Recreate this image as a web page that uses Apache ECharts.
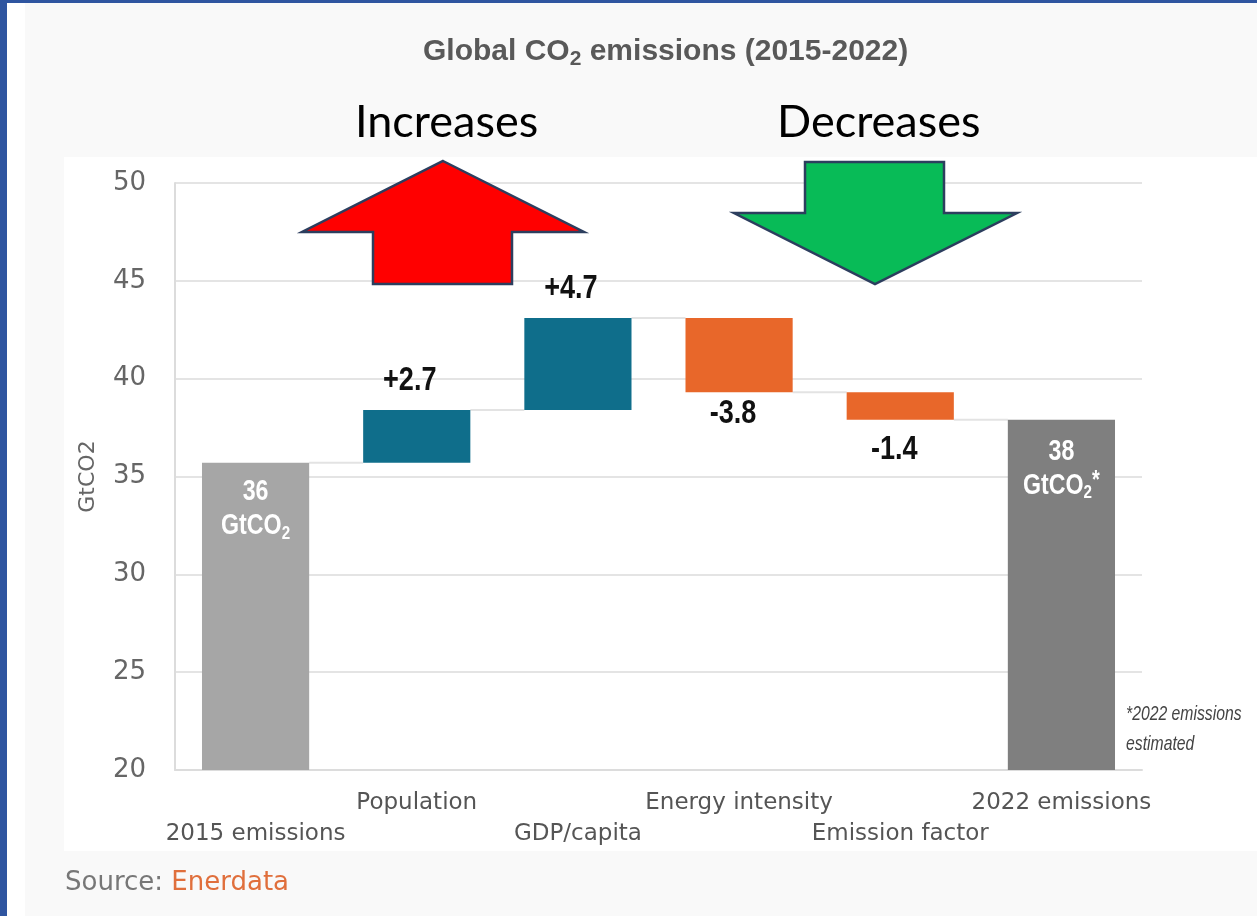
<!DOCTYPE html>
<html>
<head>
<meta charset="utf-8">
<title>Global CO2 emissions (2015-2022)</title>
<script src="https://cdn.jsdelivr.net/npm/echarts@6/dist/echarts.min.js"></script>
<style>
  html, body { margin: 0; padding: 0; background: #f9f9f9; }
  #chart { width: 1257px; height: 916px; }
</style>
</head>
<body>
<div id="chart"></div>
<script>
// Decomposition of the change in global CO2 emissions between 2015 and 2022
const categories = ['2015 emissions', 'Population', 'GDP/capita', 'Energy intensity', 'Emission factor', '2022 emissions'];
const startTotal = 35.7;                 // GtCO2 in 2015
const changes = [2.7, 4.7, -3.8, -1.4];  // contribution of each driver
const endTotal = 37.9;                   // GtCO2 in 2022 (estimate)
const yMin = 20, yMax = 50, yStep = 5;

const COLORS = { total: '#a6a6a6', final: '#7f7f7f', up: '#0f6e8b', down: '#e8672a' };
const SANS = "'DejaVu Sans', Verdana, sans-serif";
const BOLD = "'Liberation Sans', Arial, sans-serif";
const NARROW_X = 0.8; // horizontal squeeze giving the value labels a condensed look

// Build waterfall segments from the running total
const segs = [{ lo: yMin, hi: startTotal, kind: 'total', end: startTotal, value: startTotal }];
let level = startTotal;
changes.forEach(d => {
  const next = +(level + d).toFixed(1);
  segs.push({ lo: Math.min(level, next), hi: Math.max(level, next), kind: d > 0 ? 'up' : 'down', end: next, value: d });
  level = next;
});
segs.push({ lo: yMin, hi: endTotal, kind: 'final', end: endTotal, value: endTotal });

const whiteRich = {
  b: { fontFamily: BOLD, fontWeight: 'bold', fontSize: 29, fill: '#ffffff', lineHeight: 34 },
  s: { fontFamily: BOLD, fontWeight: 'bold', fontSize: 19, fill: '#ffffff', verticalAlign: 'bottom', padding: [12, 0, 0, 0], lineHeight: 34 },
  st: { fontFamily: BOLD, fontWeight: 'bold', fontSize: 25, fill: '#ffffff', verticalAlign: 'top', padding: [0, 0, 8, 0], lineHeight: 34 }
};

function labelFor(s) {
  if (s.kind === 'total') return `{b|${Math.round(s.value)}}\n{b|GtCO}{s|2}`;
  if (s.kind === 'final') return `{b|${Math.round(s.value)}}\n{b|GtCO}{s|2}{st|*}`;
  return (s.value > 0 ? '+' : '') + s.value.toFixed(1);
}

function renderItem(params, api) {
  const i = params.dataIndex;
  const s = segs[i];
  const top = api.coord([i, s.hi]);
  const bot = api.coord([i, s.lo]);
  const band = api.size([1, 0])[0];
  const w = band * 0.665;
  const children = [];
  if (i < segs.length - 1) {
    const a = api.coord([i, s.end]);
    const b = api.coord([i + 1, s.end]);
    children.push({
      type: 'line',
      shape: { x1: a[0] + w / 2, y1: a[1], x2: b[0] - w / 2, y2: b[1] },
      style: { stroke: '#e3e3e3', lineWidth: 2 }
    });
  }
  children.push({
    type: 'rect',
    shape: { x: top[0] - w / 2, y: top[1], width: w, height: bot[1] - top[1] },
    style: { fill: COLORS[s.kind] }
  });
  if (s.kind === 'total' || s.kind === 'final') {
    children.push({
      type: 'text', x: top[0], y: top[1] + (s.kind === 'total' ? 12 : 15), scaleX: NARROW_X,
      style: { text: labelFor(s), rich: whiteRich, align: 'center', verticalAlign: 'top' }
    });
  } else if (s.kind === 'up') {
    children.push({
      type: 'text', x: top[0] - 7, y: top[1] - 13, scaleX: 0.82,
      style: { text: labelFor(s), font: 'bold 33px ' + BOLD, fill: '#111', align: 'center', verticalAlign: 'bottom' }
    });
  } else {
    children.push({
      type: 'text', x: bot[0] - 6, y: bot[1] + (i === 3 ? 5 : 14), scaleX: 0.82,
      style: { text: labelFor(s), font: 'bold 33px ' + BOLD, fill: '#111', align: 'center', verticalAlign: 'top' }
    });
  }
  return { type: 'group', children: children };
}

function arrow(points, fill) {
  return {
    type: 'polygon', z: 50,
    shape: { points: points },
    style: { fill: fill, stroke: '#2c3e5e', lineWidth: 2.5, lineJoin: 'miter' }
  };
}

const chart = echarts.init(document.getElementById('chart'), null, { renderer: 'canvas' });
chart.setOption({
  backgroundColor: '#f9f9f9',
  animation: false,
  title: {
    text: '{a|Global CO}{s|2}{a| emissions (2015-2022)}',
    left: 418, top: 28,
    textStyle: {
      rich: {
        a: { fontFamily: BOLD, fontWeight: 'bold', fontSize: 30, color: '#595959' },
        s: { fontFamily: BOLD, fontWeight: 'bold', fontSize: 21, color: '#595959', verticalAlign: 'bottom', padding: [16, 0, 0, 0] }
      }
    }
  },
  grid: { left: 175, right: 115, top: 183, bottom: 146, containLabel: false },
  xAxis: {
    type: 'category',
    data: categories,
    axisTick: { show: false },
    axisLine: { show: true, lineStyle: { color: '#dcdcdc', width: 2 } },
    axisLabel: {
      interval: 0,
      margin: 18,
      fontFamily: SANS, fontSize: 23, color: '#555', lineHeight: 31,
      formatter: (v, i) => (i % 2 === 0 ? '\n' + v : v + '\n')
    }
  },
  yAxis: {
    type: 'value',
    min: yMin, max: yMax, interval: yStep,
    name: 'GtCO2',
    nameLocation: 'middle',
    nameGap: 76,
    nameTextStyle: { fontFamily: SANS, fontSize: 22, color: '#666' },
    axisLine: { show: true, lineStyle: { color: '#dcdcdc', width: 2 } },
    axisTick: { show: false },
    axisLabel: { margin: 29, fontFamily: SANS, fontSize: 26, color: '#666' },
    splitLine: { lineStyle: { color: '#e4e4e4', width: 2 } }
  },
  series: [{
    type: 'custom',
    renderItem: renderItem,
    data: segs.map((s, i) => [i, s.lo, s.hi]),
    encode: { x: 0, y: [1, 2] },
    z: 3
  }],
  graphic: [
    // page frame and white plotting panel
    { type: 'rect', z: -100, shape: { x: 0, y: 0, width: 7, height: 916 }, style: { fill: '#2f55a0' } },
    { type: 'rect', z: -100, shape: { x: 0, y: 0, width: 1257, height: 3 }, style: { fill: '#2f55a0' } },
    { type: 'rect', z: -100, shape: { x: 7, y: 3, width: 18, height: 913 }, style: { fill: '#ffffff' } },
    { type: 'rect', z: -100, shape: { x: 64, y: 157, width: 1193, height: 694 }, style: { fill: '#ffffff' } },
    // annotation arrows
    arrow([[443, 161], [584, 232], [512, 232], [512, 284], [373, 284], [373, 232], [302, 232]], '#ff0000'),
    arrow([[805, 162], [944, 162], [944, 213], [1017, 213], [875, 284], [734, 213], [805, 213]], '#08bb57'),
    { type: 'text', z: 50, x: 355, y: 100, style: { text: 'Increases', font: "45px Lato, 'Liberation Sans', sans-serif", fill: '#000' } },
    { type: 'text', z: 50, x: 777, y: 100, style: { text: 'Decreases', font: "45px Lato, 'Liberation Sans', sans-serif", fill: '#000' } },
    // footnote and source
    { type: 'text', z: 50, x: 1126, y: 699, scaleX: 0.75, style: { text: '*2022 emissions\nestimated', font: "italic 21px 'Liberation Sans', Arial, sans-serif", fill: '#444', lineHeight: 30 } },
    { type: 'text', z: 50, x: 65, y: 870, style: {
        text: '{g|Source: }{o|Enerdata}',
        rich: {
          g: { fontFamily: SANS, fontSize: 26, fill: '#777777' },
          o: { fontFamily: SANS, fontSize: 26, fill: '#e06f3c' }
        } } }
  ]
});
</script>
</body>
</html>
